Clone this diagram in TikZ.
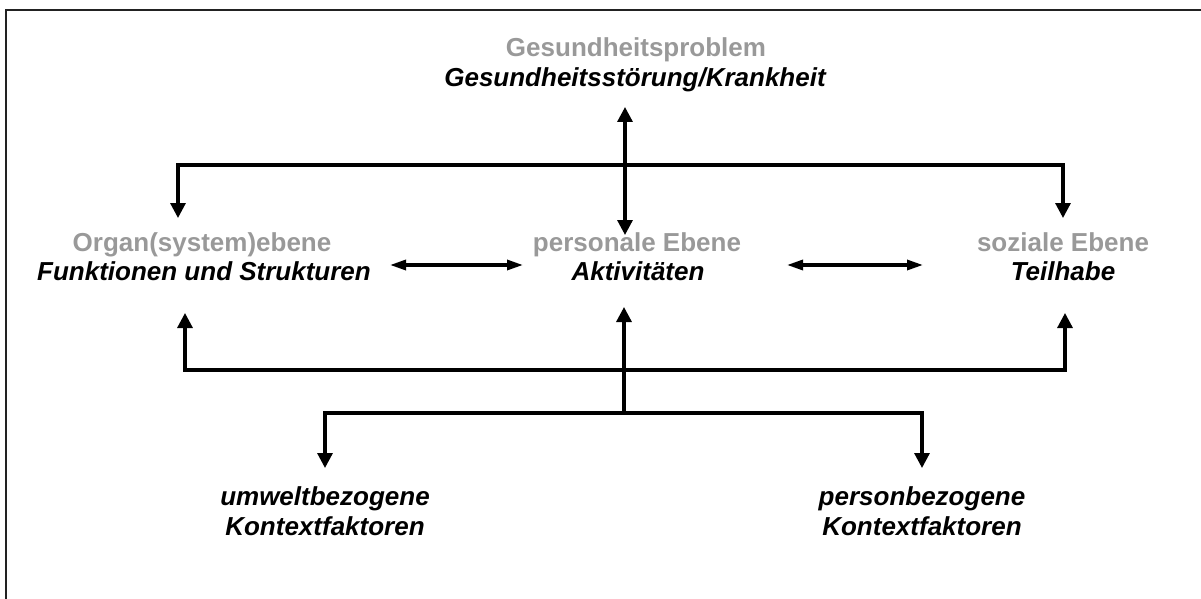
\documentclass[tikz,border=0pt]{standalone}
\usepackage{fontspec}
\setmainfont{Liberation Sans}
\usetikzlibrary{arrows.meta}
\definecolor{lightgrey}{HTML}{999999}
\definecolor{framecol}{HTML}{222222}
\begin{document}
\begin{tikzpicture}[x=1pt,y=-1pt,
  greylbl/.style={font=\fontsize{26}{30}\selectfont\bfseries, text=lightgrey, inner sep=0pt, anchor=base},
  darklbl/.style={font=\fontsize{26}{30}\selectfont\bfseries\itshape, text=black, inner sep=0pt, anchor=base},
  conn/.style={line width=3.2pt, line cap=rect},
  varr/.style={line width=3.2pt, -{Triangle[length=15pt,width=15pt]}},
  vdarr/.style={line width=3.2pt, {Triangle[length=15pt,width=15pt]}-{Triangle[length=15pt,width=15pt]}},
  hdarr/.style={line width=3.2pt, {Triangle[length=16pt,width=10pt]}-{Triangle[length=16pt,width=10pt]}},
]
\useasboundingbox (0,0) rectangle (1201,599);
% frame (top and left edges)
\draw[line width=2pt, framecol] (6,599) -- (6,10) -- (1201,10);

% texts
\node[greylbl] (gsT) at (636,57) {Gesundheitsproblem};
\node[darklbl] (gsB) at (635,87) {Gesundheitsstörung/Krankheit};
\node[greylbl] (orgT) at (202,251) {Organ(system)ebene};
\node[darklbl] (orgB) at (204,280) {Funktionen und Strukturen};
\node[greylbl] (perT) at (637,251) {personale Ebene};
\node[darklbl] (perB) at (638,280) {Aktivitäten};
\node[greylbl] (sozT) at (1063,251) {soziale Ebene};
\node[darklbl] (sozB) at (1063,280) {Teilhabe};
\node[darklbl] (umwA) at (325,505) {umweltbezogene};
\node[darklbl] (umwB) at (325,535) {Kontextfaktoren};
\node[darklbl] (psnA) at (922,505) {personbezogene};
\node[darklbl] (psnB) at (922,535) {Kontextfaktoren};

% junction / end coordinates
\coordinate (gsTip) at (625,107);
\coordinate (perTip) at (625,235);
\coordinate (ubL) at (178,165);
\coordinate (ubR) at (1063,165);
\coordinate (orgIn) at (178,218);
\coordinate (sozIn) at (1063,218);
\coordinate (orgR) at (390,265);
\coordinate (perL) at (523,265);
\coordinate (perR) at (787,265);
\coordinate (sozL) at (923,265);
\coordinate (lbL) at (185,370);
\coordinate (lbR) at (1065,370);
\coordinate (orgUp) at (185,313);
\coordinate (sozUp) at (1065,313);
\coordinate (brL) at (325,413);
\coordinate (brR) at (922,413);
\coordinate (brM) at (624,413);
\coordinate (perUp) at (624,307);
\coordinate (umwIn) at (325,468);
\coordinate (psnIn) at (922,468);

% upper bus
\draw[conn] (ubL) -- (ubR);
\draw[varr] (ubL) -- (orgIn);
\draw[varr] (ubR) -- (sozIn);
\draw[vdarr] (gsTip) -- (perTip);

% horizontal relations
\draw[hdarr] (orgR) -- (perL);
\draw[hdarr] (perR) -- (sozL);

% lower bus
\draw[conn] (lbL) -- (lbR);
\draw[varr] (lbL) -- (orgUp);
\draw[varr] (lbR) -- (sozUp);
\draw[varr] (brM) -- (perUp);

% context bracket
\draw[conn] (brL) -- (brR);
\draw[varr] (brL) -- (umwIn);
\draw[varr] (brR) -- (psnIn);
\end{tikzpicture}
\end{document}
